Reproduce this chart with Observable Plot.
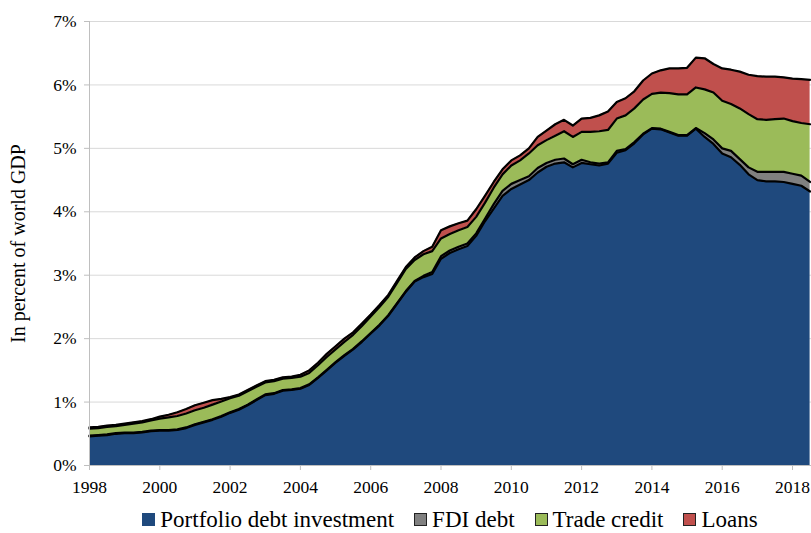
<!DOCTYPE html>
<html>
<head>
<meta charset="utf-8">
<script src="https://cdn.jsdelivr.net/npm/d3@7"></script>
<script src="https://cdn.jsdelivr.net/npm/@observablehq/plot@0.6"></script>
<style>
  @font-face { font-family: "RefSerif"; src: local("Liberation Serif"), local("LiberationSerif"), local("LiberationSerif-Regular"), local("Times New Roman"), local("DejaVu Serif"), local("DejaVuSerif"); }
  body { margin: 0; background: #fff; font-family: "Liberation Serif", "RefSerif", "DejaVu Serif", Times, serif; }
  #legend { display: flex; justify-content: center; align-items: center; gap: 20px; padding-left: 89px; width: 722px;
            font-size: 23px; line-height: 23px; margin-top: 8px; color: #000; }
  #legend .item { display: flex; align-items: center; white-space: nowrap; }
  #legend .sw { width: 13px; height: 13px; margin-right: 5px; border: 1px solid #222; box-sizing: border-box; }
</style>
</head>
<body>
<div id="chart"></div>
<div id="legend"></div>
<script>
const seriesNames = ["Portfolio debt investment", "FDI debt", "Trade credit", "Loans"];
const seriesColors = ["#1F497D", "#808080", "#9BBB59", "#C0504D"];

// quarterly, 1998Q1 .. 2018Q3 (position in fractional years)
const quarters = [
  1998.00,1998.25,1998.50,1998.75,1999.00,1999.25,1999.50,1999.75,
  2000.00,2000.25,2000.50,2000.75,2001.00,2001.25,2001.50,2001.75,
  2002.00,2002.25,2002.50,2002.75,2003.00,2003.25,2003.50,2003.75,
  2004.00,2004.25,2004.50,2004.75,2005.00,2005.25,2005.50,2005.75,
  2006.00,2006.25,2006.50,2006.75,2007.00,2007.25,2007.50,2007.75,
  2008.00,2008.25,2008.50,2008.75,2009.00,2009.25,2009.50,2009.75,
  2010.00,2010.25,2010.50,2010.75,2011.00,2011.25,2011.50,2011.75,
  2012.00,2012.25,2012.50,2012.75,2013.00,2013.25,2013.50,2013.75,
  2014.00,2014.25,2014.50,2014.75,2015.00,2015.25,2015.50,2015.75,
  2016.00,2016.25,2016.50,2016.75,2017.00,2017.25,2017.50,2017.75,
  2018.00,2018.25,2018.50
];

const portfolio = [
  0.46,0.47,0.48,0.50,0.51,0.51,0.52,0.54,
  0.55,0.55,0.56,0.59,0.64,0.68,0.72,0.77,
  0.83,0.88,0.95,1.03,1.11,1.13,1.18,1.19,
  1.21,1.27,1.38,1.50,1.62,1.73,1.83,1.95,
  2.08,2.21,2.36,2.55,2.74,2.90,2.97,3.02,
  3.26,3.35,3.41,3.46,3.62,3.85,4.05,4.25,
  4.36,4.43,4.50,4.62,4.71,4.76,4.78,4.70,
  4.77,4.75,4.73,4.76,4.93,4.97,5.08,5.22,
  5.31,5.30,5.25,5.20,5.20,5.31,5.18,5.07,
  4.92,4.86,4.74,4.59,4.50,4.48,4.48,4.47,
  4.44,4.41,4.32
];
const fdi = [
  0.01,0.01,0.01,0.01,0.01,0.01,0.01,0.01,
  0.01,0.01,0.01,0.01,0.01,0.01,0.01,0.01,
  0.01,0.01,0.01,0.01,0.01,0.01,0.01,0.01,
  0.01,0.01,0.01,0.01,0.01,0.01,0.01,0.01,
  0.01,0.01,0.01,0.01,0.01,0.01,0.02,0.03,
  0.04,0.04,0.04,0.04,0.04,0.04,0.07,0.08,
  0.08,0.07,0.06,0.07,0.06,0.06,0.06,0.05,
  0.05,0.03,0.03,0.02,0.03,0.02,0.02,0.01,
  0.01,0.01,0.01,0.01,0.01,0.01,0.06,0.07,
  0.08,0.10,0.09,0.11,0.13,0.15,0.15,0.16,
  0.16,0.16,0.15
];
const trade = [
  0.11,0.11,0.12,0.11,0.12,0.14,0.15,0.16,
  0.18,0.20,0.21,0.22,0.22,0.22,0.23,0.23,
  0.22,0.21,0.21,0.20,0.19,0.19,0.18,0.18,
  0.18,0.18,0.19,0.20,0.20,0.21,0.22,0.24,
  0.26,0.28,0.29,0.32,0.35,0.33,0.34,0.33,
  0.28,0.26,0.26,0.26,0.26,0.25,0.26,0.26,
  0.29,0.31,0.36,0.36,0.36,0.38,0.43,0.43,
  0.44,0.48,0.51,0.51,0.51,0.53,0.53,0.54,
  0.54,0.57,0.61,0.64,0.64,0.64,0.69,0.74,
  0.75,0.74,0.80,0.84,0.83,0.82,0.83,0.84,
  0.83,0.83,0.91
];
const loans = [
  0.02,0.02,0.02,0.02,0.02,0.02,0.02,0.02,
  0.03,0.04,0.06,0.07,0.08,0.08,0.07,0.04,
  0.02,0.02,0.02,0.02,0.02,0.02,0.02,0.02,
  0.03,0.04,0.04,0.05,0.05,0.05,0.04,0.04,
  0.03,0.03,0.03,0.03,0.03,0.04,0.05,0.07,
  0.13,0.12,0.11,0.10,0.12,0.11,0.09,0.08,
  0.08,0.08,0.08,0.13,0.15,0.18,0.18,0.18,
  0.21,0.22,0.25,0.29,0.26,0.27,0.27,0.30,
  0.32,0.35,0.39,0.41,0.42,0.47,0.49,0.45,
  0.51,0.54,0.58,0.62,0.68,0.68,0.67,0.65,
  0.67,0.69,0.70
];

const yTicks = [0, 1, 2, 3, 4, 5, 6, 7];
const xTicks = [1998, 2000, 2002, 2004, 2006, 2008, 2010, 2012, 2014, 2016, 2018];

const seriesValues = [portfolio, fdi, trade, loans];
const data = [];
seriesNames.forEach((name, k) => {
  quarters.forEach((t, i) => data.push({ t, series: name, value: seriesValues[k][i] }));
});

const stackOpts = { x: "t", y: "value", z: "series", order: seriesNames };
const serif = "'Liberation Serif', RefSerif, 'DejaVu Serif', Times, serif";

const chart = Plot.plot({
  width: 811,
  height: 500,
  marginLeft: 89,
  marginRight: 0,
  marginTop: 21,
  marginBottom: 35,
  style: { fontFamily: serif, fontSize: "17.5px", background: "#fff", color: "#000" },
  x: { domain: [1998, 2018.54] },
  y: { domain: [0, 7] },
  color: { domain: seriesNames, range: seriesColors },
  marks: [
    Plot.gridY(yTicks, { stroke: "#d9d9d9", strokeOpacity: 1, strokeWidth: 1 }),
    Plot.areaY(data, Plot.stackY({ ...stackOpts, fill: "series", fillOpacity: 1 })),
    Plot.lineY(data, Plot.stackY2({ ...stackOpts, stroke: "#000", strokeWidth: 2.2, strokeLinejoin: "round" })),
    Plot.ruleY([0], { stroke: "#bfbfbf", strokeWidth: 1 }),
    Plot.ruleX([1998], { stroke: "#bfbfbf", strokeWidth: 1 }),
    Plot.axisY(yTicks, { tickFormat: d => d + "%", tickSize: 5, tickPadding: 8, stroke: "#bfbfbf", fontFamily: serif, label: null }),
    Plot.axisX(xTicks, { tickFormat: d => String(d), tickSize: 5, tickPadding: 10, stroke: "#bfbfbf", fontFamily: serif, label: null }),
    Plot.text(["In percent of world GDP"], { frameAnchor: "left", dx: -71, rotate: -90, fontSize: 20, fontFamily: serif, textAnchor: "middle", lineAnchor: "middle", fill: "#000" })
  ]
});
document.getElementById("chart").appendChild(chart);

const legend = document.getElementById("legend");
seriesNames.forEach((name, k) => {
  const item = document.createElement("div");
  item.className = "item";
  const sw = document.createElement("span");
  sw.className = "sw";
  sw.style.background = seriesColors[k];
  if (k === 0) sw.style.border = "none";
  item.appendChild(sw);
  item.appendChild(document.createTextNode(name));
  legend.appendChild(item);
});
</script>
</body>
</html>
